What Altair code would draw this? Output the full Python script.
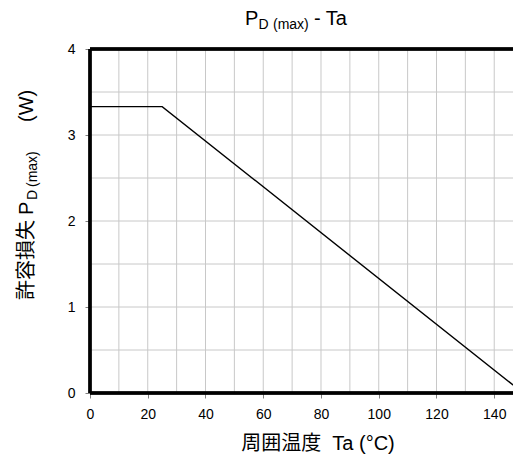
import altair as alt
import pandas as pd

# ---- data ----
ta_values = [0, 25, 150]
pd_values = [3.33, 3.33, 0.0]
x_tick_values = [0, 20, 40, 60, 80, 100, 120, 140]
y_tick_values = [0, 1, 2, 3, 4]
x_grid_values = [0, 10, 20, 30, 40, 50, 60, 70, 80, 90, 100, 110, 120, 130, 140]
y_grid_values = [0, 0.5, 1, 1.5, 2, 2.5, 3, 3.5, 4]

title_main = ["P", "- Ta"]
title_sub = ["D", "(max)"]
x_title = "周囲温度\u00a0\u00a0Ta (°C)"
y_title_parts = ["許容損失", "P", "D", "(max)", "(W)"]

X_MAX = 146.5
W, H = 423, 344
LATIN = "Liberation Sans"
MIXED = "Liberation Sans, Noto Sans CJK JP"

xs = alt.Scale(domain=[0, X_MAX], nice=False, zero=False)
ys = alt.Scale(domain=[0, 4], nice=False)

xax = alt.Axis(values=x_tick_values, grid=False, domain=False, title=None,
               labelFont=LATIN, labelFontSize=14, labelColor="black",
               tickSize=5, tickColor="#808080", labelPadding=9, labelFlush=False)
yax = alt.Axis(values=y_tick_values, grid=False, domain=False, title=None,
               labelFont=LATIN, labelFontSize=14, labelColor="black",
               tickSize=5, tickColor="#808080", labelPadding=10, format="d")

df = pd.DataFrame({"ta": ta_values, "pd": pd_values})

vgrid = alt.Chart(pd.DataFrame({"g": x_grid_values})).mark_rule(
    color="#c8c8c8", strokeWidth=1).encode(x=alt.X("g:Q", scale=xs, axis=xax))
hgrid = alt.Chart(pd.DataFrame({"g": y_grid_values})).mark_rule(
    color="#c8c8c8", strokeWidth=1).encode(y=alt.Y("g:Q", scale=ys, axis=yax))

line = alt.Chart(df).mark_line(color="black", strokeWidth=1.4, clip=True).encode(
    x=alt.X("ta:Q", scale=xs, axis=xax),
    y=alt.Y("pd:Q", scale=ys, axis=yax),
)

left_border = alt.Chart(df).mark_rule(color="black", strokeWidth=3).encode(
    x=alt.X(datum=0, scale=xs, axis=xax))
top_border = alt.Chart(df).mark_rule(color="black", strokeWidth=3).encode(
    y=alt.Y(datum=4, scale=ys, axis=yax))
bottom_border = alt.Chart(df).mark_rule(color="black", strokeWidth=3).encode(
    y=alt.Y(datum=0, scale=ys, axis=yax))


def txt(s, x, y, size, align="left", angle=0, font=LATIN):
    return alt.Chart(pd.DataFrame({"t": [s]})).mark_text(
        align=align, baseline="alphabetic", fontSize=size, font=font,
        angle=angle, color="black").encode(
        text="t:N", x=alt.value(x), y=alt.value(y))


# chart title (P_D (max) - Ta), positions relative to plot origin
t1 = txt(title_main[0], 155, -24, 20)
t2 = txt(title_sub[0], 168.5, -20, 14)
t3 = txt(title_sub[1], 183, -20, 14)
t4 = txt(title_main[1], 224, -24, 20)

# x axis title
xt = txt(x_title, 228, 401, 20, align="center", font=MIXED)

# y axis title (rotated, reads bottom to top)
y1 = txt(y_title_parts[0], -57, 251, 20, angle=270, font=MIXED)
y2 = txt(y_title_parts[1], -57, 166, 20, angle=270)
y3 = txt(y_title_parts[2], -53, 151, 14, angle=270)
y4 = txt(y_title_parts[3], -53, 138, 14, angle=270)
y5 = txt(y_title_parts[4], -57, 73, 20, angle=270)

chart = alt.layer(
    vgrid, hgrid, line, left_border, top_border, bottom_border,
    t1, t2, t3, t4, xt, y1, y2, y3, y4, y5,
).properties(
    width=W, height=H,
    autosize=alt.AutoSizeParams(type="none"),
    padding={"left": 90, "top": 49, "right": 0, "bottom": 66},
).configure_view(stroke=None).configure(background="white")

chart.save("out.html", embed_options={"renderer": "svg", "actions": False})
